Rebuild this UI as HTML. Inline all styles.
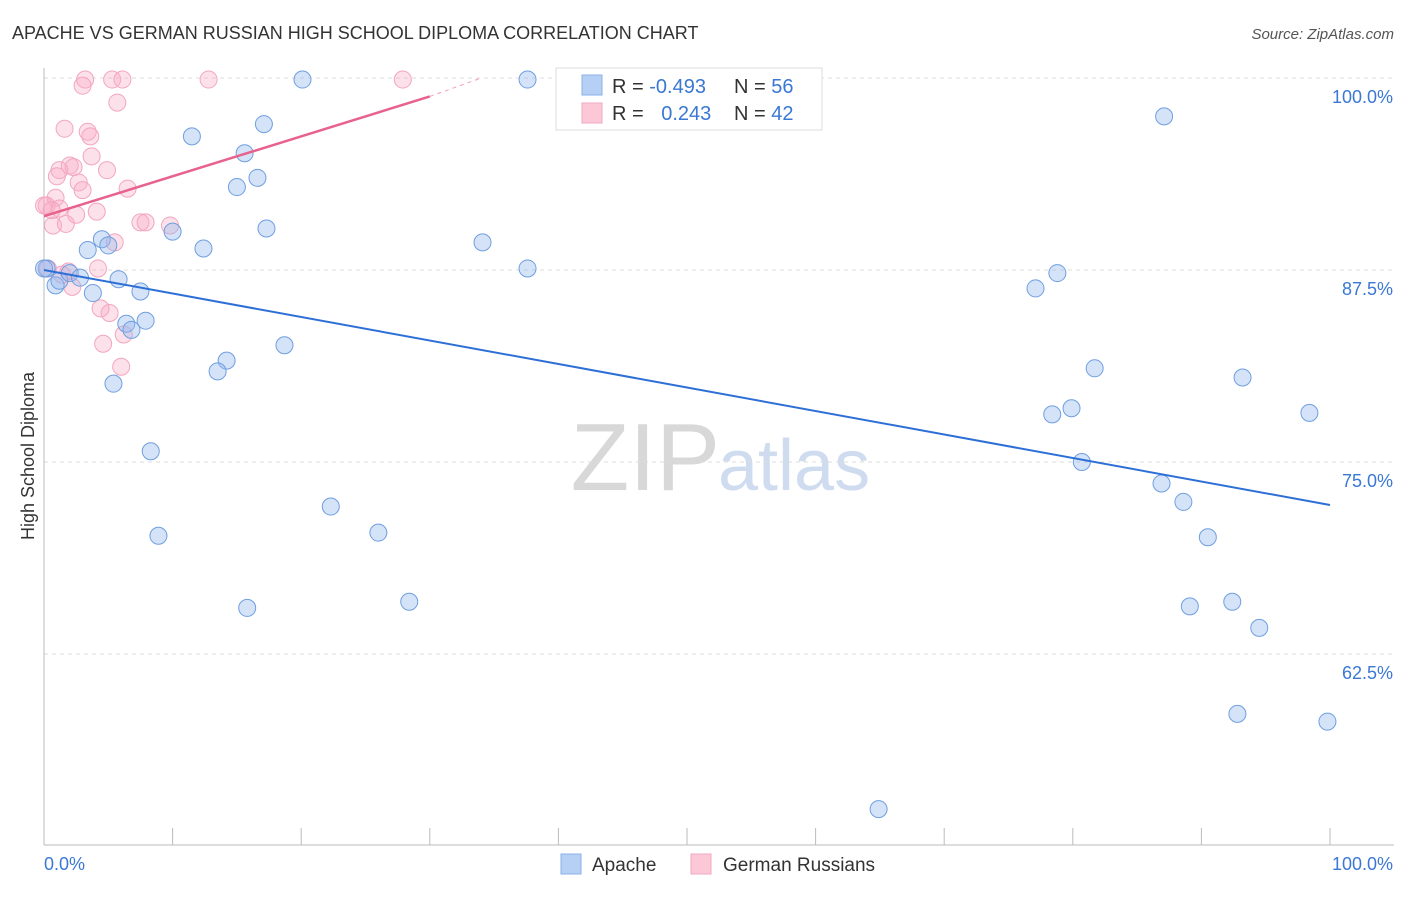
<!DOCTYPE html>
<html><head><meta charset="utf-8"><style>
body{margin:0;background:#fff;font-family:"Liberation Sans",sans-serif;}
svg text{font-family:"Liberation Sans",sans-serif;}
</style></head><body>
<svg id="chart" width="1406" height="892">
<text x="12" y="39" font-size="18" fill="#333">APACHE VS GERMAN RUSSIAN HIGH SCHOOL DIPLOMA CORRELATION CHART</text>
<text x="1394" y="39" font-size="15" fill="#555" font-style="italic" text-anchor="end">Source: ZipAtlas.com</text>
<text x="720" y="490" font-size="96" fill="#d8d8d8" text-anchor="end" font-family="Liberation Serif">ZIP</text>
<text x="718" y="490" font-size="72" fill="#cfdcf0">atlas</text>
<text transform="translate(34,456) rotate(-90)" font-size="18" fill="#333" text-anchor="middle">High School Diploma</text>
<g id="grid"></g><g id="axes"></g><g id="pts"></g><g id="trend"></g>
<g>
<rect x="556" y="68" width="266" height="62" fill="#fff" stroke="#ddd"/>
<rect x="582" y="75" width="20" height="20" fill="#b5cff5" stroke="#8ab0e8"/>
<rect x="582" y="103" width="20" height="20" fill="#fcc8d8" stroke="#f0a8bf"/>
<text x="612" y="93" font-size="20" fill="#333">R = <tspan fill="#3a78d4">-0.493</tspan></text>
<text x="734" y="93" font-size="20" fill="#333">N = <tspan fill="#3a78d4">56</tspan></text>
<text x="612" y="120" font-size="20" fill="#333">R = <tspan fill="#3a78d4" dx="12">0.243</tspan></text>
<text x="734" y="120" font-size="20" fill="#333">N = <tspan fill="#3a78d4">42</tspan></text>
</g>
<g>
<rect x="561" y="854" width="20" height="20" fill="#b5cff5" stroke="#8ab0e8"/>
<text x="592" y="871" font-size="19" fill="#333">Apache</text>
<rect x="691" y="854" width="20" height="20" fill="#fcc8d8" stroke="#f0a8bf"/>
<text x="723" y="871" font-size="19" fill="#333">German Russians</text>
</g>
</svg>
<script>
const apacheX=[42.7,37.6,20.1,87.1,11.5,17.1,15.6,16.6,15.0,10.0,17.3,12.4,3.4,4.5,5.0,34.1,37.6,78.8,77.1,0.2,0.9,1.2,2.0,2.8,3.8,5.8,7.5,6.4,6.8,7.9,18.7,14.2,13.5,5.4,81.7,93.2,98.4,78.4,79.9,8.3,80.7,86.9,88.6,22.3,90.5,8.9,26.0,15.8,28.4,89.1,92.4,94.5,92.8,99.8,64.9,0.0];
const apacheY=[99.9,99.9,99.9,97.5,96.2,97.0,95.1,93.5,92.9,90.0,90.2,88.9,88.8,89.5,89.1,89.3,87.6,87.3,86.3,87.6,86.5,86.8,87.3,87.0,86.0,86.9,86.1,84.0,83.6,84.2,82.6,81.6,80.9,80.1,81.1,80.5,78.2,78.1,78.5,75.7,75.0,73.6,72.4,72.1,70.1,70.2,70.4,65.5,65.9,65.6,65.9,64.2,58.6,58.1,52.4,87.6];
const grX=[3.2,3.0,5.3,6.1,12.8,27.9,5.7,1.6,3.4,3.6,3.7,1.2,2.0,2.3,4.9,6.5,2.7,3.0,0.9,0.2,1.2,2.5,4.1,0.7,1.7,7.5,7.9,9.8,5.5,0.3,1.9,4.2,2.2,4.4,5.1,4.6,6.2,6.0,0.0,1.0,0.6,1.4];
const grY=[99.9,99.5,99.9,99.9,99.9,99.9,98.4,96.7,96.5,96.2,94.9,94.0,94.3,94.2,94.0,92.8,93.2,92.7,92.2,91.7,91.5,91.1,91.3,90.4,90.5,90.6,90.6,90.4,89.3,87.6,87.4,87.6,86.4,85.0,84.7,82.7,83.3,81.2,91.7,93.6,91.4,87.2];
const apacheTrend=[[0,87.5],[100,72.2]];
const grTrendSolid=[[0,91.0],[30,98.8]];
const grTrendDash=[[30,98.8],[34,100]];
const yTicks=[100,87.5,75,62.5];
const yTickLabels=["100.0%","87.5%","75.0%","62.5%"];
const xTicks=[0,10,20,30,40,50,60,70,80,90,100];

const NS="http://www.w3.org/2000/svg";
const sx=v=>44+v*12.86;
const sy=v=>78+(100-v)*15.36;
function mk(t,a,p){const e=document.createElementNS(NS,t);for(const k in a)e.setAttribute(k,a[k]);p.appendChild(e);return e;}
const grid=document.getElementById('grid'),axes=document.getElementById('axes'),pts=document.getElementById('pts'),tr=document.getElementById('trend');
yTicks.forEach((v,i)=>{
 const l=mk('line',{x1:44,x2:1394,y1:sy(v),y2:sy(v),stroke:'#ddd','stroke-dasharray':'4,4'},grid);
 
 
 const t=mk('text',{x:1393,y:sy(v)+25,'font-size':18,fill:'#3a78d4','text-anchor':'end'},grid);
 t.textContent=yTickLabels[i];
 
 
});
const ya=mk('line',{x1:44,x2:44,y1:68,y2:845,stroke:'#bbb'},axes);


const xa=mk('line',{x1:44,x2:1394,y1:845,y2:845,stroke:'#bbb'},axes);


xTicks.forEach(v=>{
 const t=mk('line',{x1:sx(v),x2:sx(v),y1:828,y2:845,stroke:'#bbb'},axes);
 
 
});
const x0=mk('text',{x:44,y:870,'font-size':18,fill:'#3a78d4'},axes);x0.textContent='0.0%';


const x1=mk('text',{x:1393,y:870,'font-size':18,fill:'#3a78d4','text-anchor':'end'},axes);x1.textContent='100.0%';


grX.forEach((v,i)=>{
 const c=mk('circle',{cx:sx(v),cy:sy(grY[i]),r:8.5,fill:'rgba(248,170,196,0.35)',stroke:'#f2a6bf','stroke-width':1},pts);
 
 
});
apacheX.forEach((v,i)=>{
 const c=mk('circle',{cx:sx(v),cy:sy(apacheY[i]),r:8.5,fill:'rgba(150,186,238,0.4)',stroke:'#6f9fe0','stroke-width':1},pts);
 
 
});
const la=mk('line',{x1:sx(apacheTrend[0][0]),y1:sy(apacheTrend[0][1]),x2:sx(apacheTrend[1][0]),y2:sy(apacheTrend[1][1]),stroke:'#2d6fd6','stroke-width':2},tr);


const lg=mk('line',{x1:sx(grTrendSolid[0][0]),y1:sy(grTrendSolid[0][1]),x2:sx(grTrendSolid[1][0]),y2:sy(grTrendSolid[1][1]),stroke:'#e8628e','stroke-width':2.5},tr);


const ld=mk('line',{x1:sx(grTrendDash[0][0]),y1:sy(grTrendDash[0][1]),x2:sx(grTrendDash[1][0]),y2:sy(grTrendDash[1][1]),stroke:'#f0a0b8','stroke-width':1,'stroke-dasharray':'4,4'},tr);


</script>
</body></html>
